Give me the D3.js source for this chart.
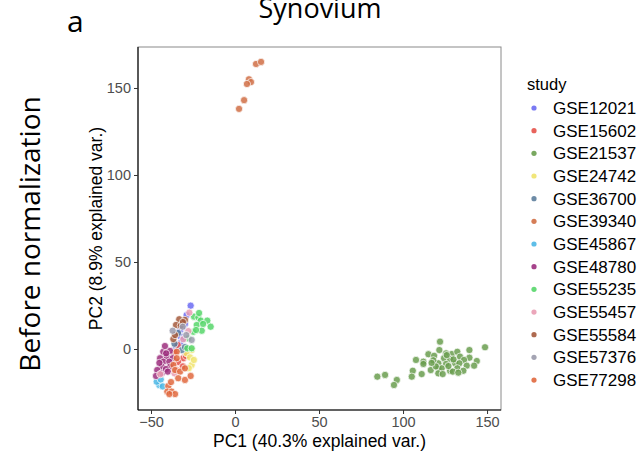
<!DOCTYPE html>
<html><head><meta charset="utf-8">
<script src="https://cdn.jsdelivr.net/npm/d3@7"></script>
<style>body{margin:0;background:#fff}svg{display:block}</style>
</head><body>
<svg id="chart" width="643" height="456"></svg>
<script>
const studies = ["GSE12021","GSE15602","GSE21537","GSE24742","GSE36700","GSE39340","GSE45867","GSE48780","GSE55235","GSE55457","GSE55584","GSE57376","GSE77298"];
const colors = ["#6b6bf2","#e5524a","#6a9e4f","#f0e36c","#5d7e9c","#d06f45","#4cb7e5","#9c2f7e","#56d66a","#e99cb3","#a55a3d","#9a9aab","#e0683e"];
const xTicks = [-50, 0, 50, 100, 150];
const yTicks = [0, 50, 100, 150];

const GSE12021 = [[-26.4,24.9],[-28.8,19.5],[-29.8,14.4],[-31.5,12.1],[-32.7,10.9],[-32.3,7.1],[-30.8,5.7],[-32.7,3.3],[-35,1]];
const GSE15602 = [[-34.1,2.3],[-30.8,-5.3],[-33.9,-7.5],[-29.2,-4.0],[-36,-2],[-38,-9],[-35,-12],[-31,-10]];
const GSE21537 = [[122.0,4.2],[148.8,1.0],[121.6,-0.6],[115.1,-3.0],[118.5,-3.9],[125.6,-2.5],[129.0,-2.9],[132.3,-1.6],[139.5,-0.6],[124.4,-5.3],[128.0,-5.7],[133.9,-4.4],[139.5,-5.0],[136.3,-6.3],[143.9,-6.9],[107.7,-6.3],[112.1,-7.3],[112.1,-8.6],[121.0,-8.2],[125.6,-8.6],[131.0,-8.2],[133.5,-8.2],[137.9,-9.6],[142.3,-9.6],[105.8,-12.5],[116.5,-12.1],[121.0,-11.1],[123.0,-11.1],[132.3,-11.1],[128.0,-12.5],[135.9,-12.5],[111.1,-14.4],[121.0,-14.0],[123.6,-14.4],[129.6,-13.0],[132.9,-13.6],[84.7,-15.9],[89.3,-14.9],[105.2,-15.9],[96.3,-17.8],[94.6,-20.7],[118,-6.5],[127,-9.8],[130,-6],[126,-3.5],[119.5,-10],[117,-8]];
const GSE24742 = [[-25.8,-0.6],[-28.8,-2.5],[-26.8,-4.8],[-25.8,-9.2],[-24.5,-6.3],[-27.5,-11]];
const GSE36700 = [[-31.7,-0.6],[-33.9,9.2],[-29.8,1.1],[-36,3]];
const GSE39340 = [[12.5,163.8],[15.5,165],[8.3,155],[9.5,153.4],[7.1,152.3],[5.4,143],[2.4,138]];
const GSE45867 = [[-45.1,-20.7],[-46.6,-18.8],[-44.2,-17.5],[-43,-21.5]];
const GSE48780 = [[-42.7,-1.6],[-38.7,-1.1],[-40.7,-4.4],[-44.6,-5.3],[-37.1,-5.3],[-42.7,-7.3],[-39.1,-7.3],[-43.6,-10.2],[-38.7,-10.2],[-46.3,-12.1],[-43.6,-14.0],[-47.0,-15.5],[-41.1,-11.5],[-41.7,1.7],[-40,-13],[-45,-8],[-41,-2.5]];
const GSE55235 = [[-24.4,18.6],[-21.8,18.2],[-20.4,16.3],[-16.5,16.3],[-14.5,12.8],[-22.8,13.8],[-19.8,10.5],[-24.8,9.9],[-27.8,6.1],[-28.4,0.4],[-23.2,10.9],[-25.8,0.4],[-19,14.4],[-21.4,20.7]];
const GSE55457 = [[-27.2,20.9],[-27.8,10.3],[-30.8,5.6],[-44.5,-14.5],[-36,-14]];
const GSE55584 = [[-33.2,17.1],[-29.8,16.7],[-35.1,13.8],[-32.3,13.4],[-36.7,5.7],[-35.7,8.0],[-31,15.5]];
const GSE57376 = [[-31.1,12.8],[-37.1,10.5],[-25.8,5.2],[-29,8]];
const GSE77298 = [[-34.7,-1.6],[-34.7,-5.3],[-36.7,-9.2],[-35.7,-12.1],[-32.7,-13.0],[-29.8,-11.1],[-33.8,-16.8],[-29.8,-17.8],[-26.4,-15.5],[-39.7,-21.3],[-40.3,-24.5],[-37.7,-24.5],[-35.7,-25.9],[-39.1,-25.9],[-38.1,-19]];

const seriesData = [GSE12021,GSE15602,GSE21537,GSE24742,GSE36700,GSE39340,GSE45867,GSE48780,GSE55235,GSE55457,GSE55584,GSE57376,GSE77298];

const svg = d3.select("#chart");
const L = 138, R = 501, T = 47, B = 410;
const x = d3.scaleLinear().domain([-57.74, 158.3]).range([L, R]);
const y = d3.scaleLinear().domain([-35.06, 173.56]).range([B, T]);
const font = "'Liberation Sans', Arial, sans-serif";

// panel border
svg.append("rect").attr("x", L).attr("y", T).attr("width", R - L).attr("height", B - T)
  .attr("fill", "none").attr("stroke", "#8a8a8a").attr("stroke-width", 1);

// points
const pts = [];
seriesData.forEach((s, i) => s.forEach(d => pts.push({x: d[0], y: d[1], i})));
svg.append("g").selectAll("circle").data(pts).join("circle")
  .attr("cx", d => x(d.x)).attr("cy", d => y(d.y)).attr("r", 3.6)
  .attr("fill", d => colors[d.i]).attr("fill-opacity", 0.85)
  .attr("stroke", "#fff").attr("stroke-width", 0.7);

// axes
const xa = svg.append("g").attr("transform", `translate(0,${B})`)
  .call(d3.axisBottom(x).tickValues(xTicks).tickSize(4).tickPadding(3));
const ya = svg.append("g").attr("transform", `translate(${L},0)`)
  .call(d3.axisLeft(y).tickValues(yTicks).tickSize(4).tickPadding(3));
[xa, ya].forEach(a => {
  a.select(".domain").attr("stroke", "#000").attr("stroke-width", 1.1);
  a.selectAll(".tick line").attr("stroke", "#333");
  a.selectAll(".tick text").attr("fill", "#4d4d4d").style("font-family", font).style("font-size", "14.5px");
});
xa.select(".domain").attr("d", `M${L},0H${R}`);
ya.select(".domain").attr("d", `M0,${T}V${B}`);

// axis titles
svg.append("text").attr("x", (L + R) / 2).attr("y", 447).attr("text-anchor", "middle")
  .style("font-family", font).style("font-size", "17.5px").attr("fill", "#000")
  .text("PC1 (40.3% explained var.)");
svg.append("text").attr("transform", `translate(102,${(T + B) / 2}) rotate(-90)`).attr("text-anchor", "middle")
  .style("font-family", font).style("font-size", "17.5px").attr("fill", "#000")
  .text("PC2 (8.9% explained var.)");

// title, panel label, row label
svg.append("text").attr("x", 320).attr("y", 18).attr("text-anchor", "middle")
  .style("font-family", "'Open Sans', sans-serif").style("font-size", "27px").attr("fill", "#000").text("Synovium");
svg.append("text").attr("x", 67).attr("y", 32)
  .style("font-family", "'Open Sans', sans-serif").style("font-size", "30px").attr("fill", "#000").text("a");
svg.append("text").attr("transform", `translate(40,234) rotate(-90)`).attr("text-anchor", "middle")
  .style("font-family", "'Open Sans', sans-serif").style("font-size", "28px").attr("fill", "#000").text("Before normalization");

// legend
const lg = svg.append("g");
lg.append("text").attr("x", 527).attr("y", 90).style("font-family", font).style("font-size", "16.5px").attr("fill", "#000").text("study");
const item = lg.selectAll("g.item").data(studies).join("g").attr("class", "item")
  .attr("transform", (d, i) => `translate(0,${108 + i * 22.67})`);
item.append("circle").attr("cx", 534).attr("cy", 0).attr("r", 2.6).attr("fill", (d, i) => colors[i]).attr("fill-opacity", 0.9);
item.append("text").attr("x", 553).attr("y", 6).style("font-family", font).style("font-size", "17px").attr("fill", "#000").text(d => d);
</script>
</body></html>
